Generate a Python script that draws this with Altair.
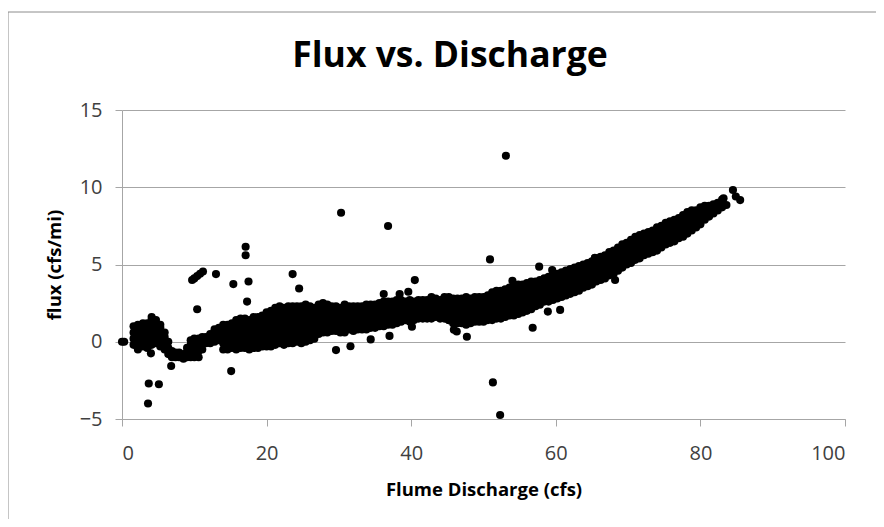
import altair as alt
import pandas as pd

# ---- dense band, read column by column: discharge value and the flux values stacked there ----
seg1_x = [1.6, 2.2, 2.9, 3.5, 4.1, 4.7, 5.3, 5.9, 6.4, 6.9, 7.4, 7.9, 8.5, 9.0, 9.5, 10.0, 10.6, 11.1]
seg1_y = [
    [-0.2, 0.2, 0.6, 1.0],
    [-0.5, -0.1, 0.3, 0.7, 1.1],
    [-0.3, 0.1, 0.5, 0.9, 1.2],
    [-0.4, 0.0, 0.4, 0.8, 1.2],
    [-0.2, 0.2, 0.6, 1.0, 1.4, 1.6],
    [-0.1, 0.3, 0.7, 1.1, 1.4],
    [-0.3, 0.1, 0.5, 0.9, 1.1],
    [-0.5, -0.1, 0.3, 0.6],
    [-0.8, -0.4, 0.0],
    [-1.0, -0.6],
    [-1.0, -0.7],
    [-1.0, -0.7],
    [-1.1, -0.8],
    [-1.0, -0.7, -0.4],
    [-1.0, -0.6, -0.2, 0.1],
    [-1.0, -0.6, -0.2, 0.2],
    [-1.0, -0.6, -0.2, 0.2],
    [-0.5, -0.1, 0.3],
]

seg2_x = [11.6, 12.2, 12.8, 13.4, 14.0, 14.6, 15.2, 15.8, 16.4, 17.0, 17.6, 18.2, 18.8, 19.4,
          20.0, 20.6, 21.2, 21.8, 22.4, 23.0, 23.6, 24.2, 24.8, 25.4, 26.0, 26.6, 27.2, 27.8,
          28.4, 29.0, 29.6, 30.2, 30.8, 31.4, 32.0, 32.6, 33.2]
seg2_y = [
    [-0.1, 0.3],
    [-0.1, 0.3, 0.5],
    [0.0, 0.4, 0.8],
    [0.1, 0.5, 0.9],
    [-0.5, -0.1, 0.3, 0.7, 1.1],
    [-0.5, -0.1, 0.3, 0.7, 1.1],
    [-0.4, 0.0, 0.4, 0.8, 1.2],
    [-0.5, -0.1, 0.3, 0.7, 1.1, 1.4],
    [-0.4, 0.0, 0.4, 0.8, 1.2, 1.5],
    [-0.4, 0.0, 0.4, 0.8, 1.2, 1.5],
    [-0.5, -0.1, 0.3, 0.7, 1.1, 1.4],
    [-0.4, 0.0, 0.4, 0.8, 1.2, 1.6],
    [-0.4, 0.0, 0.4, 0.8, 1.2, 1.6],
    [-0.3, 0.1, 0.5, 0.9, 1.3, 1.7],
    [-0.3, 0.1, 0.5, 0.9, 1.3, 1.7, 1.9],
    [-0.3, 0.1, 0.5, 0.9, 1.3, 1.7, 2.0],
    [-0.2, 0.2, 0.6, 1.0, 1.4, 1.8, 2.2],
    [-0.1, 0.3, 0.7, 1.1, 1.5, 1.9, 2.3],
    [-0.2, 0.2, 0.6, 1.0, 1.4, 1.8, 2.2],
    [-0.1, 0.3, 0.7, 1.1, 1.5, 1.9, 2.3],
    [-0.1, 0.3, 0.7, 1.1, 1.5, 1.9, 2.3],
    [0.0, 0.4, 0.8, 1.2, 1.6, 2.0, 2.3],
    [-0.1, 0.3, 0.7, 1.1, 1.5, 1.9, 2.3],
    [0.0, 0.4, 0.8, 1.2, 1.6, 2.0, 2.4],
    [0.1, 0.5, 0.9, 1.3, 1.7, 2.1, 2.3],
    [0.2, 0.6, 1.0, 1.4, 1.8, 2.2],
    [0.5, 0.9, 1.3, 1.7, 2.1, 2.4],
    [0.6, 1.0, 1.4, 1.8, 2.2, 2.5],
    [0.6, 1.0, 1.4, 1.8, 2.2, 2.4],
    [0.7, 1.1, 1.5, 1.9, 2.3],
    [0.7, 1.1, 1.5, 1.9, 2.3],
    [0.6, 1.0, 1.4, 1.8, 2.2],
    [0.6, 1.0, 1.4, 1.8, 2.2, 2.4],
    [0.8, 1.2, 1.6, 2.0, 2.3],
    [0.7, 1.1, 1.5, 1.9, 2.3],
    [0.8, 1.2, 1.6, 2.0, 2.3],
    [0.8, 1.2, 1.6, 2.0, 2.3],
]

seg3_x = [33.8, 34.4, 35.0, 35.6, 36.2, 36.8, 37.4, 38.0, 38.6, 39.2, 39.8, 40.4, 41.0, 41.6,
          42.2, 42.8, 43.4, 44.0, 44.6, 45.2, 45.8, 46.4, 47.0, 47.6, 48.2, 48.8, 49.4, 50.0,
          50.6, 51.2, 51.8, 52.4, 53.0, 53.6, 54.2, 54.8, 55.4, 56.0, 56.6]
seg3_y = [
    [0.8, 1.2, 1.6, 2.0, 2.4],
    [0.9, 1.3, 1.7, 2.1, 2.4],
    [0.9, 1.3, 1.7, 2.1, 2.4],
    [1.0, 1.4, 1.8, 2.2, 2.5],
    [1.0, 1.4, 1.8, 2.2, 2.6],
    [1.1, 1.5, 1.9, 2.3, 2.6],
    [1.1, 1.5, 1.9, 2.3, 2.6],
    [1.2, 1.6, 2.0, 2.4, 2.7],
    [1.3, 1.7, 2.1, 2.5, 2.7],
    [1.4, 1.8, 2.2, 2.6],
    [1.3, 1.7, 2.1, 2.5, 2.7],
    [1.4, 1.8, 2.2, 2.6],
    [1.5, 1.9, 2.3, 2.7],
    [1.5, 1.9, 2.3, 2.7],
    [1.5, 1.9, 2.3, 2.7],
    [1.5, 1.9, 2.3, 2.7, 2.9],
    [1.6, 2.0, 2.4, 2.8],
    [1.5, 1.9, 2.3, 2.7],
    [1.5, 1.9, 2.3, 2.7, 2.9],
    [1.4, 1.8, 2.2, 2.6, 2.9],
    [1.2, 1.6, 2.0, 2.4, 2.8],
    [1.2, 1.6, 2.0, 2.4, 2.8],
    [1.2, 1.6, 2.0, 2.4, 2.8],
    [1.1, 1.5, 1.9, 2.3, 2.7, 2.9],
    [1.2, 1.6, 2.0, 2.4, 2.8],
    [1.3, 1.7, 2.1, 2.5, 2.9],
    [1.3, 1.7, 2.1, 2.5, 2.9],
    [1.3, 1.7, 2.1, 2.5, 2.9],
    [1.4, 1.8, 2.2, 2.6, 3.0],
    [1.4, 1.8, 2.2, 2.6, 3.0, 3.2],
    [1.5, 1.9, 2.3, 2.7, 3.1, 3.3],
    [1.5, 1.9, 2.3, 2.7, 3.1, 3.3],
    [1.6, 2.0, 2.4, 2.8, 3.2, 3.4],
    [1.7, 2.1, 2.5, 2.9, 3.3, 3.5],
    [1.7, 2.1, 2.5, 2.9, 3.3, 3.6],
    [1.8, 2.2, 2.6, 3.0, 3.4, 3.7],
    [1.9, 2.3, 2.7, 3.1, 3.5, 3.7],
    [2.0, 2.4, 2.8, 3.2, 3.6, 3.8],
    [2.1, 2.5, 2.9, 3.3, 3.7, 3.9],
]

seg4_x = [57.2, 57.8, 58.4, 59.0, 59.6, 60.2, 60.8, 61.4, 62.0, 62.6, 63.2, 63.8, 64.4, 65.0,
          65.6, 66.2, 66.8, 67.4, 68.0, 68.6, 69.2, 69.8, 70.4, 71.0, 71.6, 72.2, 72.8, 73.4,
          74.0, 74.6, 75.2, 75.8, 76.4, 77.0, 77.6, 78.2, 78.8, 79.4, 80.0, 80.6, 81.2, 81.8,
          82.4, 83.0, 83.6]
seg4_y = [
    [2.3, 2.7, 3.1, 3.5, 3.9],
    [2.4, 2.8, 3.2, 3.6, 4.0],
    [2.6, 3.0, 3.4, 3.8, 4.1],
    [2.6, 3.0, 3.4, 3.8, 4.2],
    [2.7, 3.1, 3.5, 3.9, 4.3],
    [2.8, 3.2, 3.6, 4.0, 4.4],
    [2.9, 3.3, 3.7, 4.1, 4.5],
    [3.0, 3.4, 3.8, 4.2, 4.6],
    [3.1, 3.5, 3.9, 4.3, 4.7],
    [3.2, 3.6, 4.0, 4.4, 4.8],
    [3.3, 3.7, 4.1, 4.5, 4.9],
    [3.5, 3.9, 4.3, 4.7, 5.0],
    [3.6, 4.0, 4.4, 4.8, 5.1],
    [3.7, 4.1, 4.5, 4.9, 5.2],
    [3.9, 4.3, 4.7, 5.1, 5.4],
    [4.0, 4.4, 4.8, 5.2, 5.5],
    [4.1, 4.5, 4.9, 5.3, 5.6],
    [4.3, 4.7, 5.1, 5.5, 5.8],
    [4.4, 4.8, 5.2, 5.6, 5.9],
    [4.6, 5.0, 5.4, 5.8, 6.1],
    [4.8, 5.2, 5.6, 6.0, 6.3],
    [5.0, 5.4, 5.8, 6.2, 6.4],
    [5.1, 5.5, 5.9, 6.3, 6.6],
    [5.3, 5.7, 6.1, 6.5, 6.8],
    [5.4, 5.8, 6.2, 6.6, 6.9],
    [5.6, 6.0, 6.4, 6.8, 7.0],
    [5.7, 6.1, 6.5, 6.9, 7.1],
    [5.8, 6.2, 6.6, 7.0, 7.2],
    [5.9, 6.3, 6.7, 7.1, 7.4],
    [6.1, 6.5, 6.9, 7.3, 7.5],
    [6.3, 6.7, 7.1, 7.5, 7.7],
    [6.4, 6.8, 7.2, 7.6, 7.8],
    [6.5, 6.9, 7.3, 7.7, 7.9],
    [6.7, 7.1, 7.5, 7.9, 8.0],
    [6.8, 7.2, 7.6, 8.0, 8.2],
    [7.0, 7.4, 7.8, 8.2, 8.4],
    [7.2, 7.6, 8.0, 8.4, 8.5],
    [7.4, 7.8, 8.2, 8.5],
    [7.6, 8.0, 8.4, 8.7],
    [7.9, 8.3, 8.6, 8.8],
    [8.1, 8.5, 8.8],
    [8.3, 8.6, 8.9],
    [8.5, 8.8, 9.0],
    [8.7, 9.0, 9.2],
    [8.85],
]

# ---- scattered points away from the band ----
out_x = [0.0, 0.3, 4.0, 3.6, 3.7, 5.1, 6.8, 15.1, 9.7, 10.0, 10.4, 10.8, 11.2, 10.4, 13.0,
         15.4, 17.1, 17.1, 17.5, 17.3, 23.6, 24.5, 30.3, 29.6, 31.6, 34.4, 37.0, 36.8, 40.5,
         39.6, 38.4, 36.2, 40.1, 45.2, 45.9, 46.3, 47.7, 50.9, 53.1, 51.3, 52.3, 54.0, 57.7,
         59.5, 56.8, 58.9, 60.6, 65.4, 68.2, 83.2, 84.5, 84.9, 85.5]
out_y = [0.0, 0.0, -0.75, -4.0, -2.7, -2.75, -1.57, -1.9, 4.0, 4.1, 4.25, 4.4, 4.55, 2.1, 4.38,
         3.73, 6.15, 5.6, 3.9, 2.6, 4.38, 3.45, 8.35, -0.54, -0.29, 0.15, 0.38, 7.49, 3.99,
         3.24, 3.09, 3.09, 0.97, 1.4, 0.78, 0.66, 0.32, 5.33, 12.04, -2.63, -4.74, 3.95, 4.86,
         4.64, 0.91, 1.95, 2.06, 5.44, 4.0, 9.28, 9.82, 9.4, 9.17]

x_ticks = [0, 20, 40, 60, 80, 100]
y_ticks = [-5, 0, 5, 10, 15]
title_text = ["Flux vs. Discharge"]

rows = []
for xs, ys in [(seg1_x, seg1_y), (seg2_x, seg2_y), (seg3_x, seg3_y), (seg4_x, seg4_y)]:
    for xv, col in zip(xs, ys):
        for yv in col:
            rows.append({"discharge": xv, "flux": yv})
for xv, yv in zip(out_x, out_y):
    rows.append({"discharge": xv, "flux": yv})
df = pd.DataFrame(rows)

GRAY = "#a6a6a6"
FONT = "Open Sans"

points = alt.Chart(df).mark_circle(size=66, color="black", opacity=1).encode(
    x=alt.X("discharge:Q",
            scale=alt.Scale(domain=[0, 100], nice=False, zero=False),
            axis=alt.Axis(title="Flume Discharge (cfs)", values=x_ticks, grid=False,
                          tickSize=7, labelPadding=17, titlePadding=17)),
    y=alt.Y("flux:Q",
            scale=alt.Scale(domain=[-5, 15], nice=False, zero=False),
            axis=alt.Axis(title="flux (cfs/mi)", values=y_ticks, grid=True,
                          tickSize=7, labelPadding=13, titlePadding=15)),
)

frame = alt.Chart(pd.DataFrame({"k": [0]})).mark_rect(
    fill="transparent", stroke="#8c8c8c", strokeWidth=1
).encode(
    x=alt.value(-114), x2=alt.value(757), y=alt.value(-98), y2=alt.value(425)
)

title = alt.Chart(pd.DataFrame({"t": title_text})).mark_text(
    font=FONT, fontSize=35.5, fontWeight="bold", color="black",
    align="center", baseline="alphabetic"
).encode(
    text="t:N", x=alt.value(328), y=alt.value(-43)
)

chart = alt.layer(frame, title, points).properties(
    width=723,
    height=309,
    autosize="none",
    padding={"left": 114, "top": 102, "right": 31, "bottom": 100},
    background="white",
).configure_view(stroke=None).configure_axis(
    domainColor=GRAY, tickColor=GRAY, gridColor=GRAY, gridWidth=1, domainWidth=1,
    labelFont=FONT, labelFontSize=20, labelColor="#404040",
    titleFont=FONT, titleFontSize=18.5, titleFontWeight="bold", titleColor="black",
)

chart.save("out.html", embed_options={"renderer": "svg", "actions": False})
